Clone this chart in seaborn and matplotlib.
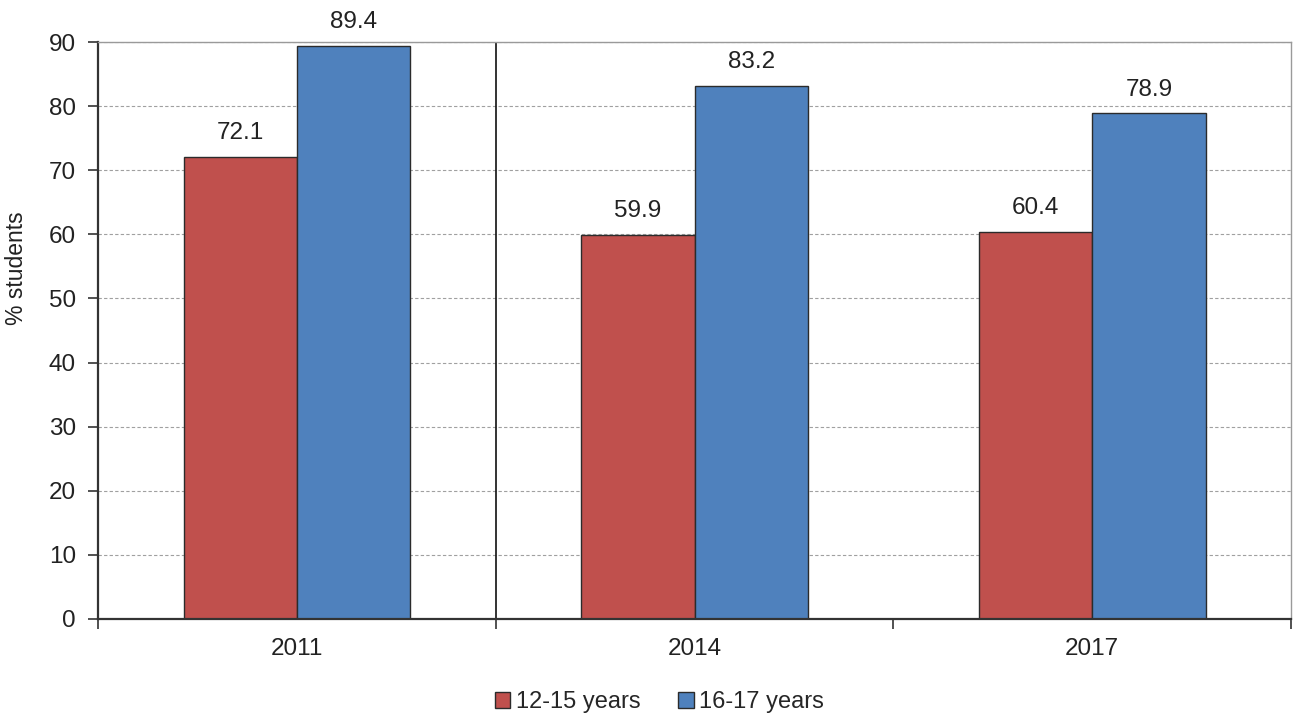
import matplotlib
matplotlib.use("Agg")
import matplotlib.pyplot as plt
import pandas as pd
import seaborn as sns
from matplotlib.patches import Patch

YEARS = ["2011", "2014", "2017"]
GROUPS = ["12-15 years", "16-17 years"]
AGE_12_15 = [72.1, 59.9, 60.4]
AGE_16_17 = [89.4, 83.2, 78.9]
Y_TICKS = [0, 10, 20, 30, 40, 50, 60, 70, 80, 90]
PALETTE = {"12-15 years": "#C0504D", "16-17 years": "#4F81BD"}

df = pd.DataFrame(
    {
        "year": YEARS * 2,
        "group": [GROUPS[0]] * 3 + [GROUPS[1]] * 3,
        "value": AGE_12_15 + AGE_16_17,
    }
)

sns.set_theme(style="white")
plt.rcParams["font.family"] = ["Liberation Sans", "DejaVu Sans"]

fig = plt.figure(figsize=(12.93, 7.17), dpi=100)
ax = fig.add_axes([0.0758, 0.1367, 0.9227, 0.8047])

sns.barplot(
    data=df,
    x="year",
    y="value",
    hue="group",
    order=YEARS,
    hue_order=GROUPS,
    palette=PALETTE,
    width=0.57,
    edgecolor="#2b2b2b",
    linewidth=1.0,
    saturation=1,
    legend=False,
    ax=ax,
)

for container in ax.containers:
    ax.bar_label(container, fmt="%.1f", padding=9, fontsize=17.5, color="#222222")

ax.set_ylim(0, 90)
ax.set_xlim(-0.5, 2.5)
ax.set_yticks(Y_TICKS)
ax.yaxis.grid(True, linestyle=(0, (3, 2)), color="#a0a0a0", linewidth=0.8)
ax.set_axisbelow(True)

# tick marks sit on the category boundaries, labels at the centres
ax.set_xticks([0, 1, 2])
ax.set_xticks([-0.5, 0.5, 1.5, 2.5], minor=True)
ax.tick_params(axis="x", which="major", length=0, labelsize=17.5, pad=14, colors="#222222")
ax.tick_params(axis="x", which="minor", length=7, width=1.2, direction="out", color="#333333", bottom=True)
ax.tick_params(axis="y", length=7, width=1.2, direction="out", color="#333333", labelsize=17.5,
               labelcolor="#222222", left=True, pad=9)
ax.axvline(0.5, color="#111111", linewidth=1.2)

ax.set_xlabel("")
ax.set_ylabel("% students", fontsize=16.5, color="#222222")
ax.yaxis.set_label_coords(-0.059, 0.608)

for side in ["left", "bottom"]:
    ax.spines[side].set_color("#333333")
    ax.spines[side].set_linewidth(1.6)
for side in ["top", "right"]:
    ax.spines[side].set_visible(True)
    ax.spines[side].set_color("#9a9a9a")
    ax.spines[side].set_linewidth(1.0)

handles = [Patch(facecolor=PALETTE[g], edgecolor="#2b2b2b", label=g) for g in GROUPS]
fig.legend(
    handles=handles,
    loc="center",
    bbox_to_anchor=(0.51, 0.021),
    ncol=2,
    frameon=False,
    fontsize=17,
    handlelength=0.65,
    handleheight=0.65,
    handletextpad=0.25,
    columnspacing=1.6,
    borderaxespad=0,
    borderpad=0,
)

fig.savefig("out.png", dpi=100)
